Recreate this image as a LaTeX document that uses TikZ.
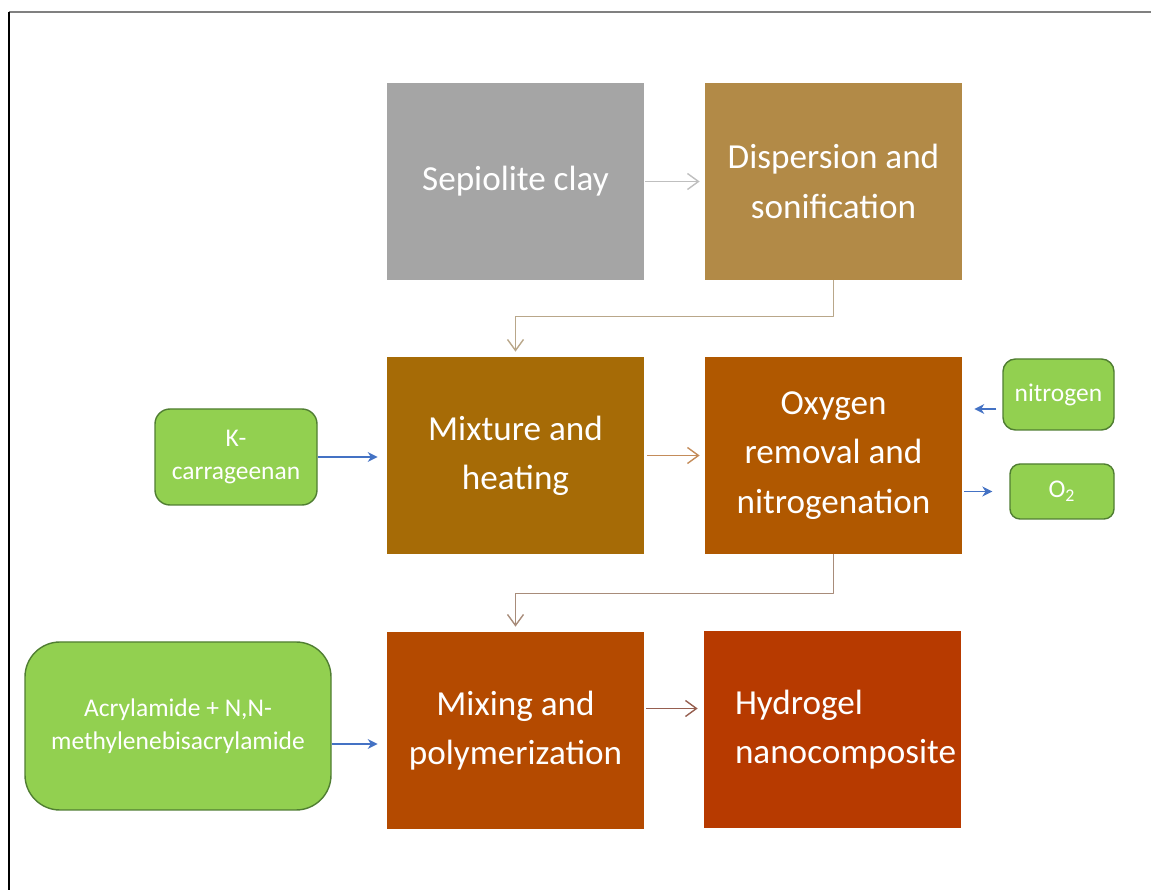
\documentclass[tikz,border=0pt]{standalone}
\usepackage{fontspec}
\setmainfont{Carlito}
\usetikzlibrary{arrows.meta}
\definecolor{clayc}{HTML}{A5A5A5}
\definecolor{dispc}{HTML}{B28A47}
\definecolor{mixc}{HTML}{A66B06}
\definecolor{oxyc}{HTML}{B05800}
\definecolor{polyc}{HTML}{B44A00}
\definecolor{gelc}{HTML}{B73A00}
\definecolor{leaf}{HTML}{92D050}
\definecolor{leafline}{HTML}{507E32}
\definecolor{feed}{HTML}{4472C4}
\begin{document}
\begin{tikzpicture}[line join=round,
	stage/.style={minimum width=5.14cm, minimum height=3.94cm, inner sep=0pt,
		text=white, align=center, font=\fontsize{20}{28}\selectfont},
	input/.style={draw=leafline, fill=leaf, rounded corners=0.3cm, inner sep=0pt,
		text=white, align=center, font=\fontsize{14.5}{19}\selectfont, line width=0.8pt},
	flow/.style={-{Straight Barb[length=2.2mm,width=3.2mm]}, line width=0.8pt},
	feedarrow/.style={-{Stealth[length=2mm,width=2mm]}, draw=feed, line width=0.8pt}]
	\useasboundingbox (0,0) rectangle (23.02,17.8);
	% frame
	\draw[gray, line width=1.2pt] (0.18,17.56)--(23.02,17.56);
	\draw[black, line width=1pt] (0.18,17.56)--(0.18,0);
	% process stages
	\node (clay) at (10.31,14.17) [stage, fill=clayc] {Sepiolite clay};
	\node (disp) at (16.67,14.17) [stage, fill=dispc] {Dispersion and\\sonification};
	\node (mix) at (10.31,8.69) [stage, fill=mixc] {Mixture and\\heating};
	\node (oxy) at (16.67,8.69) [stage, fill=oxyc] {Oxygen\\removal and\\nitrogenation};
	\node (poly) at (10.31,3.19) [stage, fill=polyc] {Mixing and\\polymerization};
	\node (gel) at (16.65,3.2) [stage, fill=gelc, text width=3.9cm, align=flush left] {Hydrogel\\\mbox{nanocomposite}};
	% inputs and outputs
	\node (kc) at (4.72,8.66) [input, minimum width=3.24cm, minimum height=1.92cm] {K-\\carrageenan};
	\node (nitro) at (21.17,9.91) [input, minimum width=2.22cm, minimum height=1.42cm, rounded corners=0.25cm] {nitrogen};
	\node (otwo) at (21.24,7.97) [input, minimum width=2.08cm, minimum height=1.1cm, rounded corners=0.2cm] {O\textsubscript{2}};
	\node (acr) at (3.56,3.28) [input, minimum width=6.12cm, minimum height=3.36cm, rounded corners=0.7cm] {Acrylamide + N,N-\\methylenebisacrylamide};
	% main flow
	\draw[flow, draw=black!25, shorten <=0.02cm, shorten >=0.1cm] (clay) -- (disp);
	\draw[flow, draw={rgb,255:red,185;green,167;blue,138}, shorten >=0.1cm] (disp.south) -- ++(0,-0.72) -| (mix.north);
	\draw[flow, draw={rgb,255:red,196;green,140;blue,90}, shorten <=0.06cm, shorten >=0.1cm] (mix) -- (oxy);
	\draw[flow, draw={rgb,255:red,168;green,140;blue,122}, shorten >=0.1cm] (oxy.south) -- ++(0,-0.78) -| (poly.north);
	\draw[flow, draw={rgb,255:red,150;green,95;blue,80}, shorten <=0.04cm, shorten >=0.12cm] ([yshift=0.44cm]poly.east) -- ([yshift=0.44cm]poly.east -| gel.west);
	% feeds
	\draw[feedarrow, shorten >=0.18cm] (kc) -- (kc -| mix.west);
	\draw[feedarrow, shorten <=0.12cm, shorten >=0.24cm] ([yshift=-0.29cm]nitro.west) -- ([yshift=-0.29cm]nitro.west -| oxy.east);
	\draw[feedarrow, shorten <=0.04cm, shorten >=0.34cm] (oxy.east |- otwo) -- (otwo.west);
	\draw[feedarrow, shorten >=0.18cm] ([yshift=-0.36cm]acr.east) -- ([yshift=-0.36cm]acr.east -| poly.west);
\end{tikzpicture}
\end{document}
